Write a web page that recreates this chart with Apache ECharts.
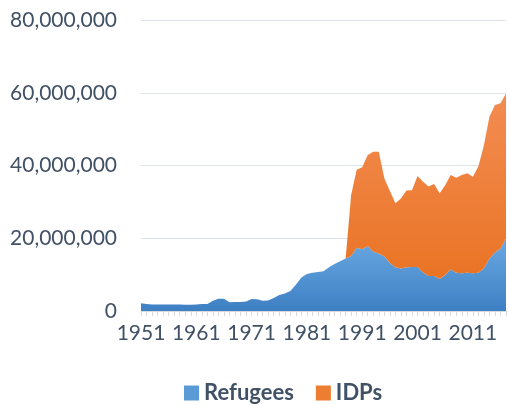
<!DOCTYPE html>
<html>
<head>
<meta charset="utf-8">
<script src="https://cdn.jsdelivr.net/npm/echarts@6/dist/echarts.min.js"></script>
<style>html,body{margin:0;padding:0;background:#fff;}#c{width:508px;height:405px;}</style>
</head>
<body>
<div id="c"></div>
<script>
const years = [];
for (let y = 1951; y <= 2017; y++) years.push(String(y));

const refugees = [
  2100000, 1900000, 1800000, 1800000, 1800000, 1800000, 1800000, 1800000, 1700000, 1700000,
  1800000, 1900000, 1900000, 2800000, 3400000, 3400000, 2400000, 2500000, 2500000, 2600000,
  3300000, 3200000, 2800000, 2900000, 3600000, 4400000, 4800000, 5500000, 7200000, 9200000,
  10200000, 10500000, 10700000, 10900000, 12000000, 12900000, 13700000, 14400000, 15100000, 17400000,
  17000000, 17900000, 16300000, 15800000, 15000000, 13200000, 12000000, 11700000, 12000000, 12100000,
  12100000, 10600000, 9600000, 9600000, 8800000, 9900000, 11400000, 10500000, 10400000, 10500000,
  10400000, 10500000, 11700000, 14400000, 16100000, 17200000, 19900000
];

const idps = [
  0, 0, 0, 0, 0, 0, 0, 0, 0, 0,
  0, 0, 0, 0, 0, 0, 0, 0, 0, 0,
  0, 0, 0, 0, 0, 0, 0, 0, 0, 0,
  0, 0, 0, 0, 0, 0, 0, 0, 16800000, 21400000,
  22500000, 25000000, 27500000, 28000000, 21500000, 19800000, 17600000, 19200000, 21100000, 21100000,
  25000000, 24900000, 24600000, 25300000, 23600000, 24700000, 26000000, 26100000, 27000000, 27400000,
  26500000, 29200000, 33800000, 39000000, 40500000, 39900000, 39900000
];

const yTicks = [0, 20000000, 40000000, 60000000, 80000000];

const textColor = '#415166';
const chart = echarts.init(document.getElementById('c'), null, {renderer: 'canvas'});
chart.setOption({
  animation: false,
  grid: {left: 141, right: 2, top: 20, bottom: 94},
  legend: {
    top: 377,
    left: 179,
    icon: 'rect',
    itemWidth: 15,
    itemHeight: 15,
    itemGap: 22,
    textStyle: {color: textColor, fontSize: 22, fontWeight: 'bold', fontFamily: 'Lato, "Open Sans", sans-serif'},
    data: ['Refugees', 'IDPs']
  },
  xAxis: {
    type: 'category',
    data: years,
    boundaryGap: false,
    axisLine: {lineStyle: {color: '#d9d9d9', width: 1}},
    axisTick: {show: true, interval: 0, length: 5, lineStyle: {color: '#d9d9d9'}},
    axisLabel: {interval: 9, color: textColor, fontSize: 21, margin: 12, fontFamily: 'Lato, "Open Sans", sans-serif'},
    splitLine: {show: false}
  },
  yAxis: {
    type: 'value',
    min: yTicks[0],
    max: yTicks[yTicks.length - 1],
    interval: 20000000,
    axisLine: {show: false},
    axisTick: {show: false},
    axisLabel: {
      color: textColor, fontSize: 21, margin: 24, fontFamily: 'Lato, "Open Sans", sans-serif',
      formatter: v => v.toLocaleString('en-US')
    },
    splitLine: {lineStyle: {color: '#dde2e8', width: 1}}
  },
  series: [
    {
      name: 'Refugees',
      type: 'line',
      stack: 'total',
      data: refugees,
      symbol: 'none',
      lineStyle: {width: 0},
      itemStyle: {color: '#5b9bd5'},
      areaStyle: {
        opacity: 1,
        color: new echarts.graphic.LinearGradient(0, 0, 0, 1, [
          {offset: 0, color: '#6aa8e2'},
          {offset: 1, color: '#3d80c3'}
        ])
      }
    },
    {
      name: 'IDPs',
      type: 'line',
      stack: 'total',
      data: idps,
      symbol: 'none',
      lineStyle: {width: 0},
      itemStyle: {color: '#ed7d31'},
      areaStyle: {
        opacity: 1,
        color: new echarts.graphic.LinearGradient(0, 0, 0, 1, [
          {offset: 0, color: '#f38d53'},
          {offset: 1, color: '#e8701e'}
        ])
      }
    }
  ]
});
</script>
</body>
</html>
